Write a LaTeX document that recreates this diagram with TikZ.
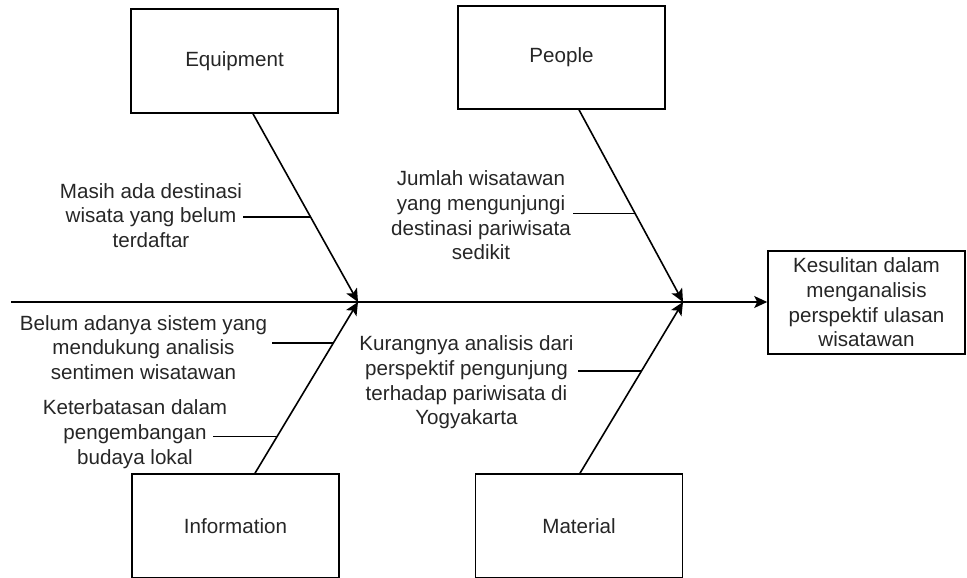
\documentclass[tikz,border=0pt]{standalone}
\usepackage{fontspec}
\setmainfont{Liberation Sans}
\usetikzlibrary{arrows.meta,calc}
\begin{document}
\begin{tikzpicture}[x=1pt,y=-1pt,
  every node/.style={text=black!85, font=\fontsize{20.6}{24.7}\selectfont},
  catbox/.style={draw=black, line width=1.6pt, minimum width=207pt, minimum height=104pt, inner sep=0pt},
  resbox/.style={draw=black, line width=1.6pt, minimum width=197pt, minimum height=103pt, inner sep=0pt, align=center},
  cause/.style={align=center, inner sep=0pt},
  bone/.style={line width=1.6pt, draw=black, -{Stealth[length=13pt,width=12pt,inset=3pt]}},
  tickline/.style={line width=1.7pt, draw=black}]
\useasboundingbox (0,0) rectangle (967,578);

% category boxes
\node[catbox] (equip) at (234.5,61) {Equipment};
\node[catbox, minimum height=103pt] (people) at (561.5,57.5) {People};
\node[catbox] (info) at (235.5,526) {Information};
\node[catbox] (mat) at (579,526) {Material};
\node[resbox] (res) at (866.5,302.5) {Kesulitan dalam\\menganalisis\\perspektif ulasan\\wisatawan};

% spine
\coordinate (sp) at (11,302);
\coordinate (tipE) at (358,302);
\coordinate (tipP) at (683,302);
\draw[bone] (sp) -- (sp -| res.west);

% bones
\draw[bone] ([xshift=18.5pt]equip.south) -- (tipE);
\draw[bone] ([xshift=17.5pt]people.south) -- (tipP);
\draw[bone] ([xshift=19.5pt]info.north) -- (tipE);
\draw[bone] ([xshift=1pt]mat.north) -- (tipP);

% cause labels
\node[cause] (cE) at (151,215.5) {Masih ada destinasi\\wisata yang belum\\terdaftar};
\node[cause] (cI1) at (143.5,347.5) {Belum adanya sistem yang\\mendukung analisis\\sentimen wisatawan};
\node[cause] (cI2) at (135,434) {Keterbatasan dalam\\pengembangan\\budaya lokal};
\node[cause] (cP) at (481,215.5) {Jumlah wisatawan\\yang mengunjungi\\destinasi pariwisata\\sedikit};
\node[cause] (cM) at (466.5,382.5) {Kurangnya analisis dari\\perspektif pengunjung\\terhadap pariwisata di\\Yogyakarta};

% tick points on bones
\coordinate (tE) at ($([xshift=18.5pt]equip.south)!0.55!(tipE)$);
\coordinate (tP) at ($([xshift=17.5pt]people.south)!0.539!(tipP)$);
\coordinate (tI1) at ($([xshift=19.5pt]info.north)!0.762!(tipE)$);
\coordinate (tI2) at ($([xshift=19.5pt]info.north)!0.215!(tipE)$);
\coordinate (tM) at ($([xshift=1pt]mat.north)!0.599!(tipP)$);
\coordinate (aE) at (243,0);
\coordinate (aP) at (573,0);
\coordinate (aI1) at (272,0);
\coordinate (aI2) at (213,0);
\coordinate (aM) at (578,0);

\draw[tickline] (tE -| aE) -- (tE);
\draw[tickline] (tP -| aP) -- (tP);
\draw[tickline] (tI1 -| aI1) -- (tI1);
\draw[tickline] (tI2 -| aI2) -- (tI2);
\draw[tickline] (tM -| aM) -- (tM);
\end{tikzpicture}
\end{document}
